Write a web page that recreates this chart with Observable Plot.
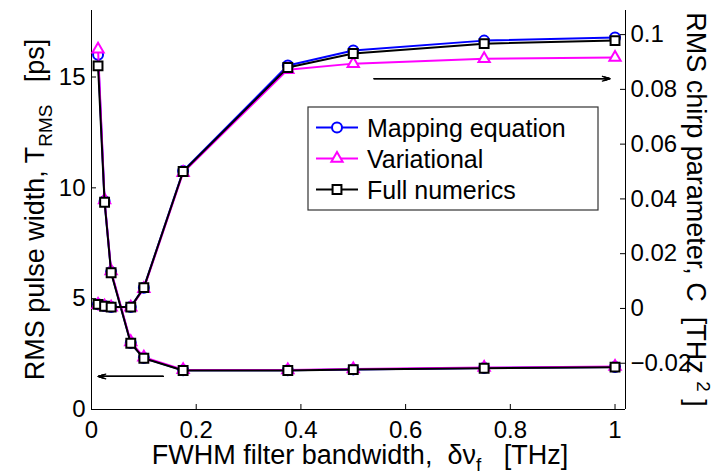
<!DOCTYPE html>
<html><head><meta charset="utf-8">
<script src="https://cdn.jsdelivr.net/npm/d3@7"></script>
<script src="https://cdn.jsdelivr.net/npm/@observablehq/plot@0.6"></script>
<style>
body{margin:0;background:#fff;}
#wrap{position:relative;width:715px;height:476px;overflow:hidden;background:#fff;}
#wrap > svg{position:absolute;left:0;top:0;}
#wrap text{white-space:pre;}
</style></head><body><div id="wrap"></div>
<script>
// ---- data ----
const bandwidth = [0.0125, 0.025, 0.0375, 0.075, 0.1, 0.175, 0.375, 0.5, 0.75, 1.0];
const widthMapping     = [16.0, 9.40, 6.20, 3.00, 2.32, 1.77, 1.77, 1.81, 1.87, 1.92];
const widthVariational = [16.25, 9.45, 6.25, 3.05, 2.36, 1.79, 1.78, 1.83, 1.89, 1.94];
const widthNumerics    = [15.5, 9.35, 6.17, 2.99, 2.31, 1.76, 1.76, 1.80, 1.86, 1.91];
const chirpMapping     = [0.0015, 0.0009, 0.0005, 0.0005, 0.0076, 0.0502, 0.0887, 0.0942, 0.0978, 0.0989];
const chirpVariational = [0.0014, 0.0008, 0.0004, 0.0004, 0.0072, 0.0496, 0.0872, 0.0894, 0.0912, 0.0916];
const chirpNumerics    = [0.0015, 0.0008, 0.0005, 0.0005, 0.0076, 0.0500, 0.0880, 0.0931, 0.0967, 0.0978];
const seriesNames = ["Mapping equation", "Variational", "Full numerics"];
const xTicks = [0, 0.2, 0.4, 0.6, 0.8, 1];
const leftTicks = [0, 5, 10, 15];
const rightTicks = [-0.02, 0, 0.02, 0.04, 0.06, 0.08, 0.1];
const xDomain = [0, 1.02];
const leftDomain = [0, 18];
const rightDomain = [-0.0369, 0.1088];
const arrowToLeftAxis = [{x1: 0.137, x2: 0.013, y: 1.49}];
const arrowToRightAxis = [{x1: 0.54, x2: 0.99, y: 0.0839}];

// ---- style ----
const W = 715, H = 476, mL = 91, mR = 90, mT = 10, mB = 67;
const frameW = W - mL - mR, frameH = H - mT - mB;
const font = '"Liberation Sans", Arial, Helvetica, sans-serif';
const tickFont = 24, labelFont = 27, legendFont = 25;
const seriesStyle = [
  {color: "#0000ff", symbol: "circle", r: 5},
  {color: "#ff00ff", symbol: "triangle", r: 4.2},
  {color: "#000000", symbol: "square", r: 5}
];
const fmt = d3.format("~g");

function seriesMarks(valueArrays) {
  return seriesStyle.flatMap((s, k) => {
    const rows = bandwidth.map((x, i) => ({x, y: valueArrays[k][i], series: seriesNames[k]}));
    return [
      Plot.line(rows, {x: "x", y: "y", stroke: s.color, strokeWidth: 2}),
      Plot.dot(rows, {x: "x", y: "y", symbol: s.symbol, r: s.r, stroke: s.color, fill: "white", strokeWidth: 2})
    ];
  });
}
// filled-looking arrow: nested chevrons
function arrowMarks(data) {
  return [9, 7, 5, 3].map(h => Plot.arrow(data, {x1: "x1", x2: "x2", y1: "y", y2: "y", stroke: "#000", strokeWidth: 1.3, headLength: h, headAngle: 36}));
}

const common = {
  width: W, height: H, marginLeft: mL, marginRight: mR, marginTop: mT, marginBottom: mB,
  style: {fontFamily: font, fontSize: tickFont + "px", color: "#000", background: "transparent", overflow: "visible"}
};

const p1 = Plot.plot({
  ...common,
  x: {domain: xDomain},
  y: {domain: leftDomain},
  marks: [
    Plot.ruleY([leftDomain[0]], {stroke: "#000", strokeWidth: 1}),
    Plot.ruleX([xDomain[0]], {stroke: "#000", strokeWidth: 1}),
    Plot.tickX(xTicks, {x: d => d, insetTop: frameH - 5, stroke: "#000"}),
    Plot.tickY(leftTicks, {y: d => d, insetRight: frameW - 5, stroke: "#000"}),
    Plot.axisX({ticks: xTicks, tickSize: 0, tickPadding: 11, tickFormat: fmt, label: null, fontSize: tickFont}),
    Plot.axisY({ticks: leftTicks, tickSize: 0, tickPadding: 6, tickFormat: fmt, label: null, fontSize: tickFont}),
    ...seriesMarks([widthMapping, widthVariational, widthNumerics]),
    ...arrowMarks(arrowToLeftAxis)
  ]
});

const p2 = Plot.plot({
  ...common,
  x: {domain: xDomain, axis: null},
  y: {domain: rightDomain},
  marks: [
    Plot.ruleX([xDomain[1]], {stroke: "#000", strokeWidth: 1}),
    Plot.tickY(rightTicks, {y: d => d, insetLeft: frameW - 5, stroke: "#000"}),
    Plot.axisY({anchor: "right", ticks: rightTicks, tickSize: 0, tickPadding: 5, tickFormat: fmt, label: null, fontSize: tickFont}),
    ...seriesMarks([chirpMapping, chirpVariational, chirpNumerics]),
    ...arrowMarks(arrowToRightAxis)
  ]
});

const wrap = document.getElementById("wrap");
wrap.appendChild(p1);
wrap.appendChild(p2);

// ---- overlay: axis labels and legend ----
const ov = d3.select(wrap).append("svg").attr("width", W).attr("height", H)
  .style("font-family", font).style("pointer-events", "none");

// x label
const xl = ov.append("text").attr("x", mL + frameW / 2 + 2).attr("y", 464).attr("text-anchor", "middle")
  .attr("font-size", labelFont);
xl.append("tspan").text("FWHM filter bandwidth,  δν");
xl.append("tspan").attr("font-size", labelFont * 0.7).attr("dy", 7).text("f");
xl.append("tspan").attr("dy", -7).text("   [THz]");

// left label
const yl = ov.append("text").attr("transform", `translate(44,${mT + frameH / 2}) rotate(-90)`)
  .attr("text-anchor", "middle").attr("font-size", labelFont);
yl.append("tspan").text("RMS pulse width, T");
yl.append("tspan").attr("font-size", labelFont * 0.7).attr("dy", 8).text("RMS");
yl.append("tspan").attr("dy", -8).text("   [ps]");

// right label
const yr = ov.append("text").attr("transform", `translate(687,${mT + frameH / 2}) rotate(90)`)
  .attr("text-anchor", "middle").attr("font-size", labelFont);
yr.append("tspan").text("RMS chirp parameter, C  [THz ");
yr.append("tspan").attr("font-size", labelFont * 0.7).attr("dy", -10).text("2");
yr.append("tspan").attr("dy", 10).text(" ]");

// legend
const lg = {right: 598, bottom: 210, rowH: 31, textX: 367, left: 308};
const lgTop = lg.bottom - (seriesNames.length * lg.rowH + 10);
ov.append("rect").attr("x", lg.left).attr("y", lgTop).attr("width", lg.right - lg.left).attr("height", lg.bottom - lgTop)
  .attr("fill", "white").attr("stroke", "#333").attr("stroke-width", 1.2);
seriesNames.forEach((name, k) => {
  const cy = lgTop + 5 + lg.rowH * (k + 0.5);
  const s = seriesStyle[k];
  ov.append("line").attr("x1", lg.left + 8).attr("x2", lg.left + 50).attr("y1", cy).attr("y2", cy)
    .attr("stroke", s.color).attr("stroke-width", 2);
  const sym = {circle: d3.symbolCircle, triangle: d3.symbolTriangle, square: d3.symbolSquare}[s.symbol];
  ov.append("path").attr("d", d3.symbol(sym, Math.PI * s.r * s.r)())
    .attr("transform", `translate(${lg.left + 29},${cy})`)
    .attr("fill", "white").attr("stroke", s.color).attr("stroke-width", 2);
  ov.append("text").attr("x", lg.textX).attr("y", cy).attr("dy", "0.36em")
    .attr("font-size", legendFont).text(name);
});
</script>
</body></html>
